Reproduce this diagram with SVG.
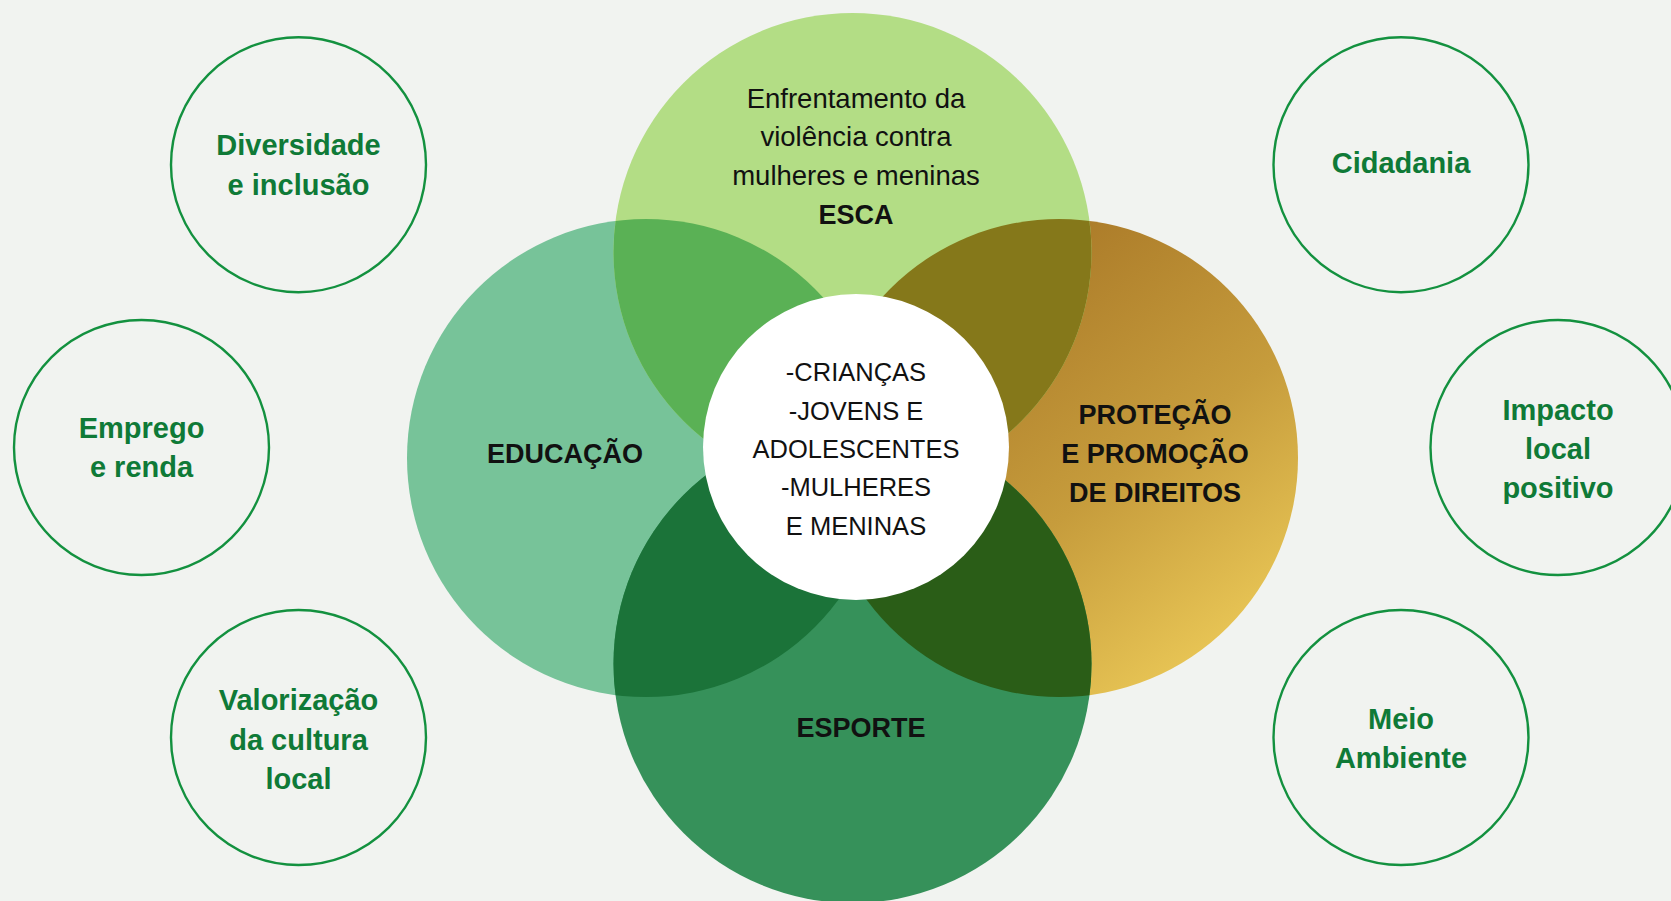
<svg xmlns="http://www.w3.org/2000/svg" width="1671" height="901" viewBox="0 0 1671 901">
<style>
.ring{fill:none;stroke:#13913f;stroke-width:2.4}
.lbl{font-family:"Liberation Sans",Arial,sans-serif;font-weight:bold;font-size:29px;fill:#0f7a37;text-anchor:middle}
.big{font-family:"Liberation Sans",Arial,sans-serif;font-weight:bold;font-size:27px;fill:#111;text-anchor:middle}
.reg{font-family:"Liberation Sans",Arial,sans-serif;font-size:27.5px;fill:#111;text-anchor:middle}
.ctr{font-family:"Liberation Sans",Arial,sans-serif;font-size:25.5px;fill:#111;text-anchor:middle}
</style>
<defs>
<linearGradient id="gold" x1="0.3" y1="0.2" x2="0.85" y2="0.95">
<stop offset="0" stop-color="#ad7d2a"/>
<stop offset="0.5" stop-color="#c69c3c"/>
<stop offset="1" stop-color="#ecca58"/>
</linearGradient>
<clipPath id="cL"><circle cx="646" cy="458" r="239"/></clipPath>
<clipPath id="cR"><circle cx="1059" cy="458" r="239"/></clipPath>
</defs>
<rect width="1671" height="901" fill="#f1f3f0"/>

<g id="educacao">
<circle cx="646" cy="458" r="239" fill="#77c399"/>
<text class="big" x="565" y="463">EDUCAÇÃO</text>
</g>
<g id="protecao">
<circle cx="1059" cy="458" r="239" fill="url(#gold)"/>
</g>
<g id="esca">
<circle cx="852.5" cy="252" r="239" fill="#b3dd85"/>
<circle cx="852.5" cy="252" r="239" fill="#5ab155" clip-path="url(#cL)"/>
<circle cx="852.5" cy="252" r="239" fill="#85781a" clip-path="url(#cR)"/>
</g>
<g id="esporte">
<circle cx="852.5" cy="664" r="239" fill="#36915a"/>
<circle cx="852.5" cy="664" r="239" fill="#1b7339" clip-path="url(#cL)"/>
<circle cx="852.5" cy="664" r="239" fill="#2a5d17" clip-path="url(#cR)"/>
<text class="big" x="861" y="737">ESPORTE</text>
</g>
<g id="esca-text">
<text class="reg" x="856" y="107.5">Enfrentamento da</text>
<text class="reg" x="856" y="146">violência contra</text>
<text class="reg" x="856" y="185">mulheres e meninas</text>
<text class="big" x="856" y="224">ESCA</text>
</g>
<g id="protecao-text">
<text class="big" x="1155" y="424">PROTEÇÃO</text>
<text class="big" x="1155" y="463">E PROMOÇÃO</text>
<text class="big" x="1155" y="502">DE DIREITOS</text>
</g>
<g id="centro">
<circle cx="856" cy="447" r="153" fill="#ffffff"/>
<text class="ctr" x="856" y="380.5">-CRIANÇAS</text>
<text class="ctr" x="856" y="419.5">-JOVENS E</text>
<text class="ctr" x="856" y="458">ADOLESCENTES</text>
<text class="ctr" x="856" y="496">-MULHERES</text>
<text class="ctr" x="856" y="535">E MENINAS</text>
</g>

<g id="diversidade">
<circle class="ring" cx="298.5" cy="164.7" r="127.5"/>
<text class="lbl" x="298.5" y="155">Diversidade</text>
<text class="lbl" x="298.5" y="194.5">e inclusão</text>
</g>
<g id="emprego">
<circle class="ring" cx="141.5" cy="447.5" r="127.5"/>
<text class="lbl" x="141.5" y="438">Emprego</text>
<text class="lbl" x="141.5" y="477">e renda</text>
</g>
<g id="valorizacao">
<circle class="ring" cx="298.5" cy="737.5" r="127.5"/>
<text class="lbl" x="298.5" y="709.5">Valorização</text>
<text class="lbl" x="298.5" y="749.5">da cultura</text>
<text class="lbl" x="298.5" y="789">local</text>
</g>
<g id="cidadania">
<circle class="ring" cx="1401" cy="164.7" r="127.5"/>
<text class="lbl" x="1401" y="172.5">Cidadania</text>
</g>
<g id="impacto">
<circle class="ring" cx="1558" cy="447.5" r="127.5"/>
<text class="lbl" x="1558" y="419.5">Impacto</text>
<text class="lbl" x="1558" y="458.5">local</text>
<text class="lbl" x="1558" y="497.5">positivo</text>
</g>
<g id="meio-ambiente">
<circle class="ring" cx="1401" cy="737.5" r="127.5"/>
<text class="lbl" x="1401" y="728.5">Meio</text>
<text class="lbl" x="1401" y="767.5">Ambiente</text>
</g>
</svg>
